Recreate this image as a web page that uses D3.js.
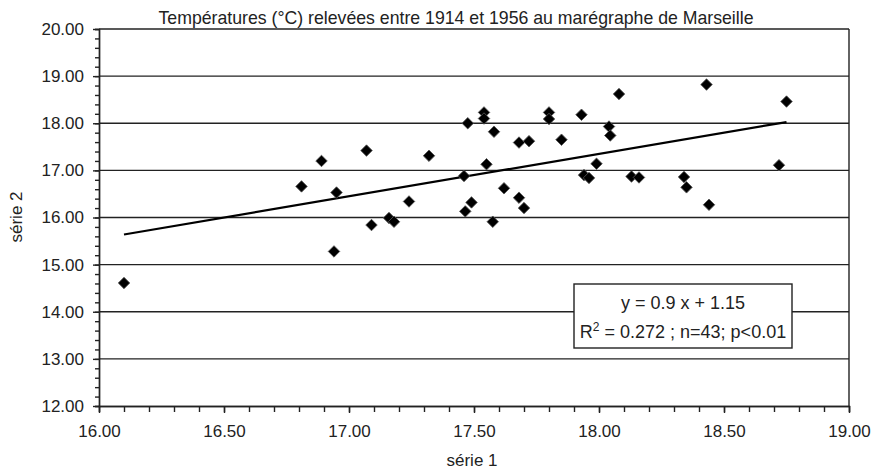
<!DOCTYPE html>
<html>
<head>
<meta charset="utf-8">
<script src="https://cdn.jsdelivr.net/npm/d3@7"></script>
<style>
  body { margin: 0; background: #fff; }
  text { font-family: "Liberation Sans", Arial, sans-serif; fill: #222; }
</style>
</head>
<body>
<div id="chart"></div>
<script>
// Data (série 1 = x, série 2 = y)
var serie1 = [16.10, 16.81, 16.89, 16.95, 16.94, 17.07, 17.09, 17.16, 17.18, 17.24,
              17.32, 17.46, 17.465, 17.49, 17.475, 17.54, 17.54, 17.58, 17.55, 17.575,
              17.62, 17.68, 17.72, 17.68, 17.70, 17.80, 17.80, 17.85, 17.93, 17.94,
              17.96, 17.99, 18.04, 18.045, 18.08, 18.13, 18.16, 18.34, 18.35, 18.43,
              18.44, 18.72, 18.75];
var serie2 = [14.61, 16.66, 17.20, 16.53, 15.28, 17.42, 15.84, 15.99, 15.91, 16.34,
              17.31, 16.88, 16.13, 16.32, 18.00, 18.23, 18.10, 17.82, 17.13, 15.91,
              16.62, 17.59, 17.62, 16.42, 16.20, 18.23, 18.09, 17.65, 18.18, 16.90,
              16.84, 17.14, 17.93, 17.74, 18.62, 16.87, 16.85, 16.86, 16.64, 18.82,
              16.27, 17.11, 18.46];
var xTicks = [16.0, 16.5, 17.0, 17.5, 18.0, 18.5, 19.0];
var yTicks = [12, 13, 14, 15, 16, 17, 18, 19, 20];
var slope = 0.9, intercept = 1.15;
var title = "Températures (°C) relevées entre 1914 et 1956 au marégraphe de Marseille";

var divWidth = 871,
    divHeight = 472,
    margin = {top: 29, left: 99, bottom: 66, right: 22},
    width = divWidth - margin.left - margin.right,
    height = divHeight - margin.top - margin.bottom;

var svg = d3.select("#chart")
  .append("svg")
  .attr("width", divWidth)
  .attr("height", divHeight);

var x = d3.scaleLinear([16, 19], [margin.left, margin.left + width]);
var y = d3.scaleLinear([12, 20], [margin.top + height, margin.top]);
var fmt = d3.format(".2f");
var ink = "#222";

// horizontal grid lines (and top border)
svg.append("g")
  .selectAll("line")
  .data(yTicks.slice(1))
  .join("line")
    .attr("x1", x(16)).attr("x2", x(19))
    .attr("y1", d => y(d)).attr("y2", d => y(d))
    .attr("stroke", ink).attr("stroke-width", 1.4);

// right border
svg.append("line")
  .attr("x1", x(19)).attr("x2", x(19))
  .attr("y1", y(20)).attr("y2", y(12))
  .attr("stroke", ink).attr("stroke-width", 1.4);

// minor ticks
var yMinor = d3.range(12, 20.01, 0.2);
var xMinor = d3.range(16, 19.01, 0.1);

svg.append("g")
  .attr("transform", `translate(${margin.left},0)`)
  .call(d3.axisLeft(y).tickValues(yMinor).tickSize(4).tickFormat(""));
svg.append("g")
  .attr("transform", `translate(0,${y(12)})`)
  .call(d3.axisBottom(x).tickValues(xMinor).tickSize(6).tickFormat(""));

// major axes
svg.append("g")
  .attr("transform", `translate(${margin.left},0)`)
  .call(d3.axisLeft(y).tickValues(yTicks).tickSize(6).tickSizeOuter(0).tickPadding(9).tickFormat(fmt));
svg.append("g")
  .attr("transform", `translate(0,${y(12)})`)
  .call(d3.axisBottom(x).tickValues(xTicks).tickSize(7).tickSizeOuter(0).tickPadding(12).tickFormat(fmt));

svg.selectAll(".domain, .tick line")
  .attr("stroke", ink).attr("stroke-width", 1.4);
svg.selectAll(".tick text")
  .attr("font-family", "Liberation Sans, Arial, sans-serif")
  .attr("font-size", 17)
  .attr("fill", ink);

// title with white background covering the top border
var titleBg = svg.append("rect").attr("fill", "#fff");
var titleText = svg.append("text")
  .attr("x", 456)
  .attr("y", 24)
  .attr("text-anchor", "middle")
  .attr("font-size", 17.7)
  .text(title);
var bb = titleText.node().getBBox();
titleBg
  .attr("x", bb.x - 7).attr("y", bb.y)
  .attr("width", bb.width + 14).attr("height", bb.height);

// axis labels
svg.append("text")
  .attr("transform", "translate(" + 472 + ", " + 466 + ")")
  .attr("text-anchor", "middle")
  .attr("font-size", 17)
  .text("série 1");
svg.append("text")
  .attr("transform", "translate(" + 22 + ", " + 217 + ") rotate(-90)")
  .attr("text-anchor", "middle")
  .attr("font-size", 17)
  .text("série 2");

// regression line
var xMin = d3.min(serie1), xMax = d3.max(serie1);
svg.append("line")
  .attr("x1", x(xMin)).attr("y1", y(slope * xMin + intercept))
  .attr("x2", x(xMax)).attr("y2", y(slope * xMax + intercept))
  .attr("stroke", "#000").attr("stroke-width", 2.2);

// points
var points = serie1.map((v, i) => ({x: v, y: serie2[i]}));
var diamond = d3.symbol(d3.symbolSquare, 66);
svg.append("g")
  .selectAll("path")
  .data(points)
  .join("path")
    .attr("d", diamond)
    .attr("transform", d => `translate(${x(d.x)},${y(d.y)}) rotate(45)`)
    .attr("fill", "#000")
    .attr("stroke", "#555")
    .attr("stroke-width", 0.8);

// equation box
var box = svg.append("g");
box.append("rect")
  .attr("x", 574).attr("y", 284)
  .attr("width", 218).attr("height", 64)
  .attr("fill", "#fff")
  .attr("stroke", ink).attr("stroke-width", 1.4);
box.append("text")
  .attr("x", 683).attr("y", 309)
  .attr("text-anchor", "middle")
  .attr("font-size", 18)
  .text("y = " + slope + " x + " + intercept);
var eq2 = box.append("text")
  .attr("x", 683).attr("y", 338)
  .attr("text-anchor", "middle")
  .attr("font-size", 18);
eq2.append("tspan").text("R");
eq2.append("tspan").attr("dy", -7).attr("font-size", 12).text("2");
eq2.append("tspan").attr("dy", 7).text(" = 0.272 ; n=" + points.length + "; p<0.01");
</script>
</body>
</html>
